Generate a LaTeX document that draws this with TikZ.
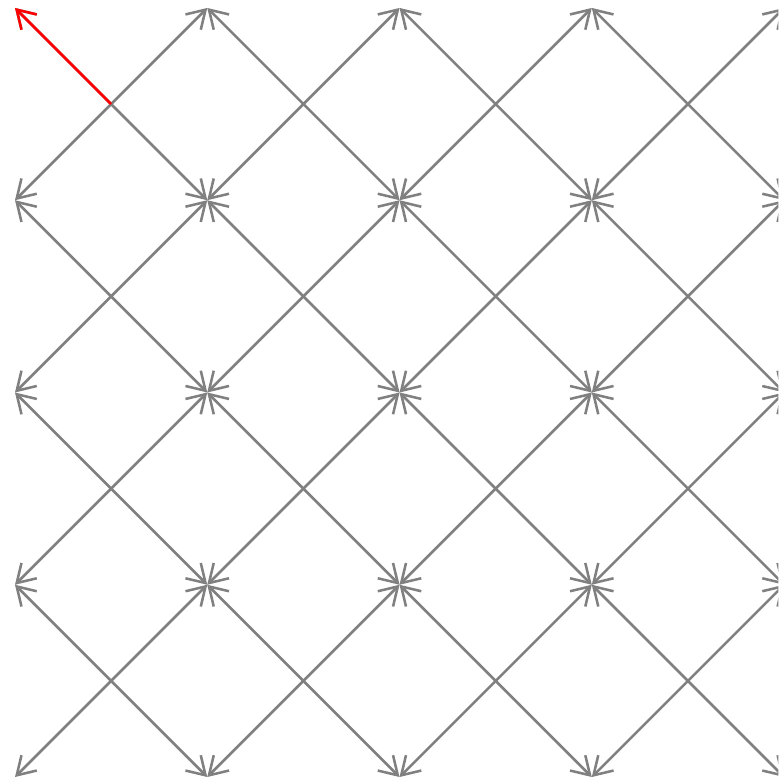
\documentclass[tikz,border=0pt]{standalone}
\usetikzlibrary{arrows.meta}
\definecolor{fieldgray}{HTML}{808080}
\definecolor{fieldred}{HTML}{FF0000}
\tikzset{
  vec/.style={-{Straight Barb[length=5.2pt,width=6.4pt]}, draw=fieldgray, line width=0.75pt},
  hivec/.style={vec, draw=fieldred}
}
\begin{document}
\begin{tikzpicture}[x=1cm,y=1cm]
  \useasboundingbox (-0.156,-0.031) rectangle (7.942,8.083);
  \clip (-0.156,-0.031) rectangle (7.942,8.083);

  % Lattice points.
  \foreach \i in {0,...,4}
    \foreach \j in {0,...,4}
      \coordinate (p-\i-\j) at (2*\i,2*\j);

  % Cell centres.
  \foreach \i in {0,...,3}
    \foreach \j in {0,...,3}
      \coordinate (c-\i-\j) at (2*\i+1,2*\j+1);

  % Field vectors.
  \foreach \i/\k in {0/1,1/2,2/3,3/4}
    \foreach \j/\l in {0/1,1/2,2/3,3/4} {
      \draw[vec] (c-\i-\j) -- (p-\i-\j);
      \draw[vec] (c-\i-\j) -- (p-\k-\j);
      \draw[vec] (c-\i-\j) -- (p-\k-\l);
      \draw[vec] (c-\i-\j) -- (p-\i-\l);
    }

  % Highlighted vector.
  \draw[hivec] (c-0-3) -- (p-0-4);

\end{tikzpicture}
\end{document}
